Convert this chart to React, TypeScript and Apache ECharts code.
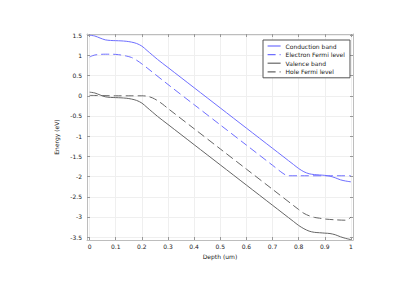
import React, { useEffect, useRef } from "react";
import * as echarts from "echarts";

const seriesNames = ["Conduction band", "Electron Fermi level", "Valence band", "Hole Fermi level"];

const conductionBand: [number, number][] = [
  [0, 1.5], [0.02, 1.48], [0.04, 1.43], [0.06, 1.385], [0.08, 1.37], [0.1, 1.365], [0.12, 1.36],
  [0.14, 1.35], [0.16, 1.33], [0.18, 1.295], [0.2, 1.23], [0.22, 1.12], [0.24, 1.01], [0.26, 0.9],
  [0.3, 0.7], [0.4, 0.2], [0.5, -0.3], [0.6, -0.8], [0.7, -1.3], [0.78, -1.7], [0.8, -1.8],
  [0.82, -1.88], [0.84, -1.93], [0.86, -1.95], [0.88, -1.96], [0.9, -1.97], [0.92, -1.99],
  [0.94, -2.03], [0.96, -2.08], [0.98, -2.11], [1.0, -2.13],
];

const electronFermi: [number, number][] = [
  [0, 0.96], [0.01, 0.99], [0.02, 1.01], [0.04, 1.025], [0.06, 1.03], [0.08, 1.03], [0.1, 1.025],
  [0.12, 1.01], [0.14, 0.985], [0.16, 0.95], [0.18, 0.88], [0.2, 0.79], [0.22, 0.69], [0.3, 0.28],
  [0.4, -0.22], [0.5, -0.72], [0.6, -1.22], [0.7, -1.72], [0.74, -1.92], [0.76, -1.98], [0.8, -1.98],
  [0.9, -1.98], [1.0, -1.98],
];

const valenceBand: [number, number][] = [
  [0, 0.09], [0.02, 0.07], [0.04, 0.02], [0.06, -0.025], [0.08, -0.04], [0.1, -0.045], [0.12, -0.05],
  [0.14, -0.06], [0.16, -0.08], [0.18, -0.115], [0.2, -0.18], [0.22, -0.29], [0.24, -0.4], [0.26, -0.51],
  [0.3, -0.71], [0.4, -1.21], [0.5, -1.71], [0.6, -2.21], [0.7, -2.71], [0.78, -3.11], [0.8, -3.21],
  [0.82, -3.29], [0.84, -3.35], [0.86, -3.38], [0.88, -3.39], [0.9, -3.4], [0.92, -3.41], [0.94, -3.44],
  [0.96, -3.49], [0.98, -3.53], [1.0, -3.56],
];

const holeFermi: [number, number][] = [
  [0, 0.01], [0.05, 0.005], [0.1, 0], [0.15, 0], [0.2, 0], [0.22, -0.01], [0.24, -0.05], [0.26, -0.12],
  [0.28, -0.21], [0.3, -0.315], [0.4, -0.815], [0.5, -1.315], [0.6, -1.815], [0.7, -2.315], [0.8, -2.815],
  [0.82, -2.91], [0.84, -2.97], [0.86, -3.01], [0.88, -3.03], [0.9, -3.05], [0.94, -3.07], [0.98, -3.08],
  [0.99, -3.06], [1.0, -3.0],
];

const xTicks = [0, 0.1, 0.2, 0.3, 0.4, 0.5, 0.6, 0.7, 0.8, 0.9, 1];
const yTicks = [-3.5, -3, -2.5, -2, -1.5, -1, -0.5, 0, 0.5, 1, 1.5];

const BLUE = "#6f6fff";
const GRAY = "#666666";
const FONT = "DejaVu Sans";

export default function App() {
  const ref = useRef<HTMLDivElement>(null);
  useEffect(() => {
    document.body.style.margin = "0";
    const chart = echarts.init(ref.current!, null, { renderer: "svg" });
    const axisLineColor = "#bdbdbd";
    const gridColor = "#efefef";
    const tickStyle = { show: true, inside: true, length: 3, lineStyle: { color: "#999" } };
    const xCommon = { type: "value" as const, min: -0.01, max: 1.008 };
    const yCommon = { type: "value" as const, min: -3.57, max: 1.53 };
    chart.setOption({
      animation: false,
      backgroundColor: "#ffffff",
      grid: { left: 87, right: 67, top: 34, bottom: 50 },
      legend: {
        orient: "vertical",
        left: 263,
        top: 40,
        padding: [3, 5, 3, 4],
        itemWidth: 13,
        itemHeight: 6,
        itemGap: 2.6,
        borderColor: "#555",
        borderWidth: 1,
        backgroundColor: "#fff",
        itemStyle: { opacity: 0, borderWidth: 0 },
        lineStyle: { width: 1.2 },
        textStyle: { fontFamily: FONT, fontSize: 6, color: "#222" },
        data: seriesNames,
      },
      xAxis: [
        {
          ...xCommon,
          position: "bottom",
          name: "Depth (um)",
          nameLocation: "middle",
          nameGap: 11,
          nameTextStyle: { fontFamily: FONT, fontSize: 6, color: "#222" },
          axisLine: { show: true, onZero: false, lineStyle: { color: axisLineColor } },
          axisTick: { ...tickStyle, customValues: xTicks },
          axisLabel: {
            customValues: xTicks,
            fontFamily: FONT,
            fontSize: 6,
            color: "#222",
            margin: 3,
            formatter: (v: number) => String(Math.round(v * 10) / 10),
          },
          splitLine: { show: true, lineStyle: { color: gridColor } },
        },
        {
          ...xCommon,
          position: "top",
          axisLine: { show: true, onZero: false, lineStyle: { color: axisLineColor } },
          axisTick: { ...tickStyle, customValues: xTicks },
          axisLabel: { show: false, customValues: xTicks },
          splitLine: { show: false },
        },
      ],
      yAxis: [
        {
          ...yCommon,
          position: "left",
          name: "Energy (eV)",
          nameLocation: "middle",
          nameGap: 27,
          nameTextStyle: { fontFamily: FONT, fontSize: 6, color: "#222" },
          axisLine: { show: true, onZero: false, lineStyle: { color: axisLineColor } },
          axisTick: { ...tickStyle, customValues: yTicks },
          axisLabel: {
            customValues: yTicks,
            fontFamily: FONT,
            fontSize: 6,
            color: "#222",
            margin: 5,
            formatter: (v: number) => String(v),
          },
          splitLine: { show: true, lineStyle: { color: gridColor } },
        },
        {
          ...yCommon,
          position: "right",
          axisLine: { show: true, onZero: false, lineStyle: { color: axisLineColor } },
          axisTick: { ...tickStyle, customValues: yTicks },
          axisLabel: { show: false, customValues: yTicks },
          splitLine: { show: false },
        },
      ],
      series: [
        {
          name: seriesNames[0],
          type: "line",
          data: conductionBand,
          showSymbol: false,
          symbol: "none",
          smooth: 0.3,
          lineStyle: { color: BLUE, width: 1 },
          itemStyle: { color: BLUE },
        },
        {
          name: seriesNames[1],
          type: "line",
          data: electronFermi,
          showSymbol: false,
          symbol: "none",
          smooth: 0.3,
          lineStyle: { color: BLUE, width: 1, type: [8, 4] },
          itemStyle: { color: BLUE },
        },
        {
          name: seriesNames[2],
          type: "line",
          data: valenceBand,
          showSymbol: false,
          symbol: "none",
          smooth: 0.3,
          lineStyle: { color: GRAY, width: 1 },
          itemStyle: { color: GRAY },
        },
        {
          name: seriesNames[3],
          type: "line",
          data: holeFermi,
          showSymbol: false,
          symbol: "none",
          smooth: 0.3,
          lineStyle: { color: GRAY, width: 1, type: [8, 4] },
          itemStyle: { color: GRAY },
        },
      ],
    });
    return () => chart.dispose();
  }, []);
  return <div ref={ref} style={{ width: 420, height: 290 }} />;
}
